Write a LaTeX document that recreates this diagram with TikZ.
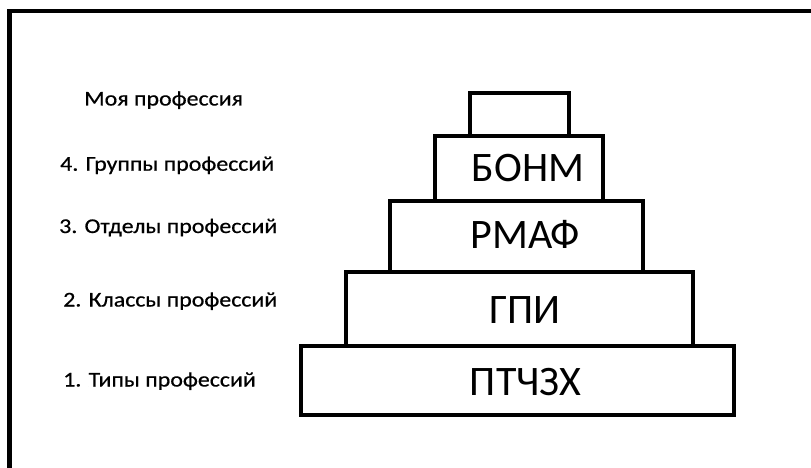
\documentclass[tikz,border=0pt]{standalone}
\usepackage{fontspec}
\setmainfont{Carlito}
\newfontfamily\lvlfont[FakeStretch=1.14, FakeBold=0.6]{Carlito}
\usetikzlibrary{positioning}

\begin{document}
\begin{tikzpicture}[
  x=1pt, y=-1pt,
  tier/.style={draw, line width=3.6pt, inner sep=0pt},
  tiertext/.style={anchor=base, inner sep=0pt, font=\fontsize{42}{42}\selectfont},
  lvl/.style={anchor=base west, inner sep=0pt, font=\lvlfont\fontsize{21}{21}\selectfont},
  frame/.style={line width=4.6pt},
]
\useasboundingbox[fill=white] (0,0) rectangle (811,468);
% ---- outer frame (only top and left edges) ----
\draw[frame] (9.5,468) -- (9.5,11) -- (811,11);

% ---- the stepped pyramid, bottom to top ----
\node[tier, minimum width=433, minimum height=69] (base) at (517.5,380.5) {};
\node[tier, minimum width=347, minimum height=74] (cls)  at (519.5,309)   {};
\node[tier, minimum width=253, minimum height=71] (dept) at (516.5,236.5) {};
\node[tier, minimum width=168, minimum height=65] (grp)  at (519,168.5)   {};
\node[tier, minimum width=99,  minimum height=43] (mine) at (519.5,114.5) {};

\node[tiertext] (tbase) at (525.5,395)   {ПТЧЗХ};
\node[tiertext] (tcls)  at (525,323)     {ГПИ};
\node[tiertext] (tdept) at (525.5,248)   {РМАФ};
\node[tiertext] (tgrp)  at (528,181.5)   {БОНМ};

% ---- level captions on the left ----
\node[lvl] (lmine) at (84,105.5) {Моя профессия};
\node[lvl] (lgrp)  at (60,170.7) {4. Группы профессий};
\node[lvl] (ldept) at (59,233)   {3. Отделы профессий};
\node[lvl] (lcls)  at (63,306.5) {2. Классы профессий};
\node[lvl] (lbase) at (63,386.5) {1. Типы профессий};
\end{tikzpicture}
\end{document}
